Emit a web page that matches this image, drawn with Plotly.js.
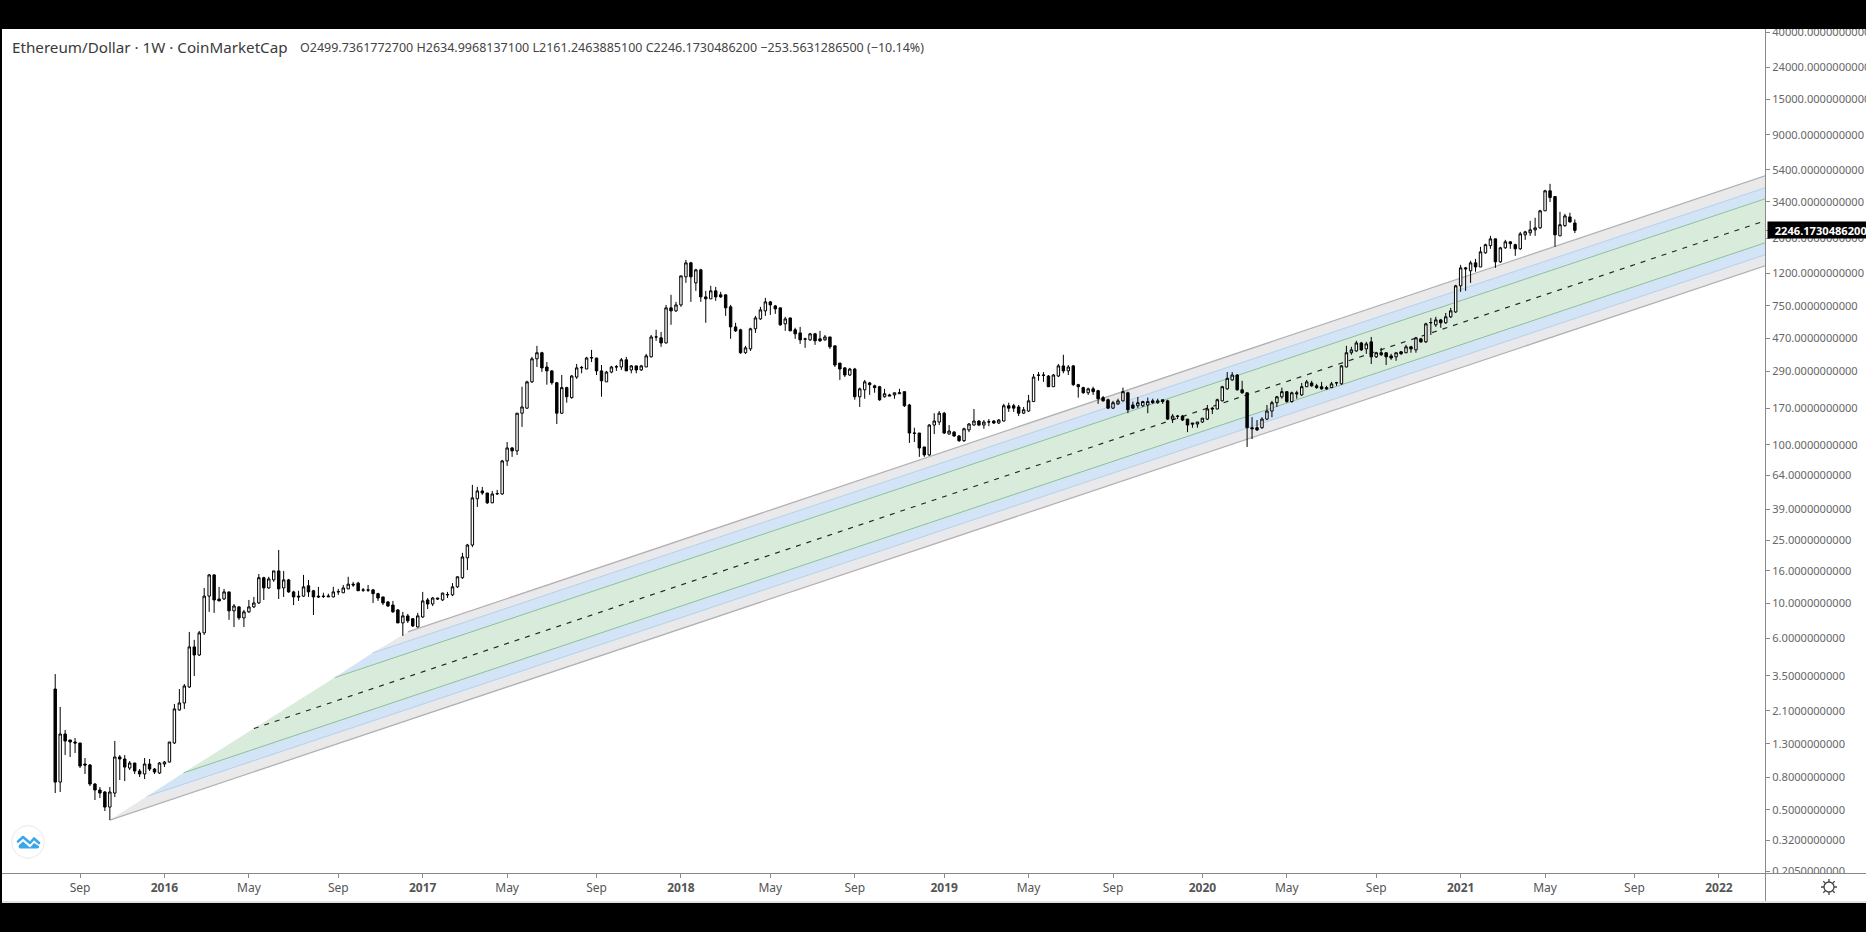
<!DOCTYPE html>
<html><head><meta charset="utf-8">
<script src="https://cdn.plot.ly/plotly-3.0.1.min.js"></script>
<style>
html,body{margin:0;padding:0;background:#000;width:1866px;height:932px;overflow:hidden}
#frame{position:absolute;left:2px;top:29px;width:1864px;height:874px;background:#fff;overflow:hidden}
#chart{position:absolute;left:0;top:0;width:1864px;height:873px}
#corner{position:absolute;left:1764px;top:845px;width:100px;height:26px;background:#fff}
#foot{position:absolute;left:0;top:872px;width:1864px;height:2px;background:#e2e2e2}
#vline{position:absolute;left:1763px;top:844px;width:1px;height:28px;background:#8a8a8a}
#hline{position:absolute;left:1763px;top:844px;width:101px;height:1px;background:#8a8a8a}
#logo{position:absolute;left:9px;top:796px}
#gear{position:absolute;left:1818px;top:849px}
</style></head><body>
<div id="frame">
<div id="chart"></div>
<div id="corner"></div><div id="vline"></div><div id="hline"></div><div id="foot"></div>
<svg id="logo" width="34" height="34" viewBox="0 0 34 34"><circle cx="17" cy="17" r="16.3" fill="#fff" stroke="#e9e9e9"/><path d="M7 16.500l5-4.500 7 6 4-4.500 5 4.500" fill="none" stroke="#3ba6e8" stroke-width="2.600" stroke-linejoin="round" stroke-linecap="round"/><path d="M8 20l4-3.500 7 6 4-4.500 5 3c.6 1.600-.4 2.500-2 2.500H9.500c-1.800 0-2.500-2-1.500-3.500z" fill="#3ba6e8"/></svg>
<svg id="gear" width="18" height="18" viewBox="0 0 18 18"><circle cx="9" cy="9" r="5" fill="none" stroke="#444" stroke-width="1.300"/><path d="M9 1v3M9 14v3M1 9h3M14 9h3M3.300 3.300l2.100 2.100M12.600 12.600l2.100 2.100M3.300 14.700l2.100-2.100M12.600 5.400l2.100-2.100" stroke="#444" stroke-width="1.300"/></svg>
</div>
<script>
const firstBar = '2015-08-03';
const opens = [
2.88,.746,1.50,1.375,1.335,1.316,.97,.956,.725,.665,
.646,.519,.636,1.074,1.043,.915,.984,.876,.839,.97,
.902,.851,.97,.998,1.316,2.126,2.353,2.968,5.31,4.72,
6.51,11.1,15.1,10.65,10.65,11.8,8.96,9.49,8.09,8.83,
9.49,10.05,14.5,12.5,14.05,16.0,12.5,14.05,11.8,11.1,
11.1,12.9,12.0,11.1,11.1,10.97,10.97,11.8,11.65,12.33,
13.2,13.4,12.15,12.15,12.15,11.5,10.97,10.2,9.75,9.08,
7.52,8.33,8.0,7.09,8.2,10.5,9.9,10.8,10.5,11.3,
11.3,12.7,14.5,19.35,23.3,45.6,51.1,49.6,43.0,48.9,
48.9,79.0,95.4,91.4,158,170,249,348,380,309,
292,246,158,229,198,267,305,300,352,352,
292,249,287,309,309,343,296,314,296,309,
358,478,472,438,729,698,761,1144,1401,1048,
1266,855,831,933,881,881,740,553,530,380,
402,538,621,698,795,750,729,578,630,530,
507,465,458,500,465,458,478,420,327,305,
275,300,200.5,222,245,235,232,200.5,206,206,
209.5,216,178,118.5,118.5,96.8,86.2,133,139,158,
116.7,120,113.5,106,124,133,141,133,139,141,
137,141,176,176,173,158,163,187,275,275,
271,232,271,314,292,314,239,229,212.5,225,
219,198,192,170,181,189,212.5,178,176,176,
178,189,184,192,189,145,151.5,151.5,145,137,
135,139,145,170,168,189,225,256,275,222,
212.5,128,128,128,145,163,184,200.5,216,187,
212.5,206,232,245,235,232,229,229,245,242,
309,380,390,438,402,445,358,380,380,363,
358,385,380,414,396,465,445,587,570,612,
587,640,687,1004,1303,1248,1401,1320,1621,1800,
1985,1422,1743,1902,1824,1718,2104,2167,2263,2330,
2983,3988,3670,2074,2403,2730,2499.74];
const highs = [
3.58,2.22,1.59,1.375,1.415,1.316,1.058,.97,.736,.694,
.655,.694,1.355,1.105,1.105,1.013,.984,.902,1.058,1.043,
.915,.998,1.013,1.335,2.32,2.88,3.10,6.60,5.88,6.70,
12.5,15.3,15.3,12.7,12.33,11.8,9.9,9.62,9.08,10.5,
10.97,15.3,14.7,14.7,16.0,21.7,16.0,14.25,12.0,12.0,
15.1,14.05,12.15,12.7,11.65,11.5,12.7,12.33,13.05,14.7,
13.65,13.65,12.5,13.05,12.33,11.65,10.97,10.35,10.35,9.2,
8.83,8.58,8.0,8.70,11.8,10.8,10.97,10.8,11.65,11.8,
13.4,14.7,20.8,23.7,55.8,54.2,54.2,49.6,51.1,51.9,
80.2,104,96.8,158,232,253,358,420,385,332,
296,249,275,232,275,323,314,358,396,352,
318,292,314,318,352,358,318,314,318,374,
492,530,514,761,881,795,1160,1464,1422,1285,
1285,933,1004,989,920,881,761,587,538,420,
546,649,740,843,807,761,729,640,630,546,
553,472,507,507,522,492,478,420,327,309,
305,305,229,256,249,239,235,225,209.5,212.5,
225,216,181,128,118.5,96.8,135,158,163,161,
133,122,115,128,137,168,143,143,145,143,
145,181,184,181,178,173,206,279,287,287,
275,279,323,369,318,318,242,232,229,232,
222,203,195,189,195,229,216,187,200,189,
198,195,195,192,192,156,154,154,145,137,
139,147,178,173,195,235,287,287,279,253,
212.5,149,143,149,178,189,203,229,216,216,
219,245,256,253,242,249,235,249,249,318,
420,414,452,445,445,478,385,408,380,374,
380,390,426,420,478,472,587,630,640,621,
677,729,1018,1361,1320,1443,1485,1768,1850,2074,
1985,1768,1957,1902,1850,2198,2230,2580,2696,3026,
4046,4414,3670,2940,2856,2900,2635.00];
const lows = [
.636,.646,1.105,1.074,1.138,.915,.839,.704,.575,.592,
.49,.43,.60,.769,.757,.889,.839,.803,.78,.876,
.839,.839,.928,.99,1.297,2.10,2.157,2.926,3.48,4.65,
6.32,8.83,8.70,10.35,10.5,7.86,7.09,7.86,7.09,8.70,
9.35,9.9,10.5,12.33,13.65,10.65,10.97,11.65,9.75,10.35,
10.97,10.97,8.44,10.8,10.8,10.97,10.9,11.3,11.6,12.3,
12.7,12.0,11.8,11.8,10.05,10.35,9.75,9.49,8.70,7.52,
6.23,7.52,7.09,7.05,8.09,9.2,9.62,10.5,10.35,10.8,
11.1,12.5,14.25,16.2,22.6,40.5,48.3,42.3,42.8,48.3,
48.3,73.5,83.8,86.2,129.5,168,245,309,287.5,239,
239,135,156,184,195,260,282,300,332,275,
200.5,249,282,292,296,292,282,282,292,309,
355,452,414,435,570,687,740,1048,795,933,
795,587,831,807,843,649,465,514,374,374,
390,507,612,649,658,668,562,522,522,465,
432,408,452,426,445,452,402,309,256,267,
271,192,173,195,206,212.5,189,198,203,195,
209,173,102.6,104,83.8,83.8,85,116.7,133,116.7,
116,112,104,104,120,132,131,126,131,135,
135,140,161,161,151.5,156,161,186,253,249,
232,231,267,282,275,235,198,209.5,206,206,
181,187,168,168,178,188,158,168,170,173,
158,181,181,181,143,137,145,141,120,128,
128,137,143,156,167,188,222,253,219,209.5,
96.8,108.5,122,126,143,149,173,195,184,184,
195,203,231,232,225,222,222,228,235,239,
308,369,385,390,374,323,352,363,318,343,
338,369,378,380,380,438,438,492,553,546,
578,630,677,920,933,1048,1232,1318,1600,1718,
1303,1401,1718,1718,1551,1693,1957,2074,2074,2295,
2980,3390,1768,2070,2368,2510,2161.25];
const closes = [
.746,1.50,1.355,1.335,1.316,.942,.956,.725,.665,.636,
.519,.646,1.074,1.043,.928,.984,.876,.839,.97,.902,
.863,.984,.998,1.335,2.157,2.353,3.01,5.31,4.72,6.51,
11.1,15.1,10.5,10.35,11.8,8.96,9.62,8.09,8.83,9.49,
10.05,14.5,12.5,14.25,16.0,12.33,14.05,11.8,10.97,10.97,
12.7,11.8,10.97,10.97,11.05,11.1,11.8,11.85,12.5,13.2,
13.05,12.0,12.1,12.1,11.5,10.8,10.05,9.62,8.83,7.52,
8.33,7.75,7.2,8.33,10.35,9.9,10.8,10.65,11.6,11.35,
12.7,14.7,19.6,23.3,46.2,51.1,49.6,43.0,48.9,49.2,
79.0,95.4,91.4,158,173,249,348,380,305,292,
246,158,229,200.5,271,305,307,352,354,292,
253,287,309,310,343,292,314,296,314,363,
478,478,438,729,698,761,1160,1401,1144,1266,
855,831,933,855,855,729,553,522,380,408,
538,630,708,795,761,718,570,621,522,500,
458,463,500,452,452,478,414,318,300,275,
300,200.5,225,249,239,229,192,209.5,203,212.5,
212.5,176,118.5,118,95.4,86.2,133,141,158,118.5,
122,113.5,106,126,135,141,133,139,139.5,137,
143,176,170,170,158,166,189,267,274,274,
232,275,314,292,309,239,232,212.5,225,216,
195,189,170,184,189,216,166,170,184,187,
187,184,189,187,145,151.5,151,143,133,135,
139,147,168,168,192,232,262,275,222,212.5,
128,126,124,145,163,184,200.5,216,187,212.5,
209.5,232,249,235,229,225,225,242,246,314,
380,396,438,396,432,358,380,369,358,352,
380,374,414,402,472,445,578,589,612,587,
640,698,1004,1303,1285,1401,1320,1644,1824,1985,
1422,1743,1902,1850,1718,2135,2198,2263,2330,2983,
3988,3617,2104,2438,2770,2540,2246.17];

// channel: where each parallel line starts on the fan edge, and where it ends at the right edge
const channelEnd = '2022-03-09';
const lineNames  = ['bottom','lowerBlue','lowerGreen','middle','upperGreen','upperBlue','top'];
const lineStartDates  = ['2015-10-19','2015-12-10','2016-01-31','2016-05-09','2016-08-31','2016-10-23','2016-12-12'];
const lineStartPrices = [0.43,0.605,0.854,1.623,3.40,4.86,6.60];
const lineEndPrices   = [1342,1574,1874,2580,3550,4165,4958];
const lineColors = ['#b2b2b2','#b4d0ec','#8cc098','#222222','#8cc098','#b4d0ec','#b2b2b2'];
const lineWidths = [1.3,1,1,1.15,1,1,1.3];
const bandColors = ['#e9e9eb','#d2e4f6','#d9ebdb','#d9ebdb','#d2e4f6','#e9e9eb'];

const yTickValues = [40000,24000,15000,9000,5400,3400,2000,1200,750,470,290,170,100,64,39,25,16,10,6,3.5,2.1,1.3,0.8,0.5,0.32,0.205];
const xTickDates = ['2015-09-07','2016-01-04','2016-05-02','2016-09-05','2017-01-02','2017-05-01','2017-09-04','2018-01-01','2018-05-07','2018-09-03','2019-01-07','2019-05-06','2019-09-02','2020-01-06','2020-05-04','2020-09-07','2021-01-04','2021-05-03','2021-09-06','2022-01-03'];
const xTickLabels = ['Sep','<b>2016</b>','May','Sep','<b>2017</b>','May','Sep','<b>2018</b>','May','Sep','<b>2019</b>','May','Sep','<b>2020</b>','May','Sep','<b>2021</b>','May','Sep','<b>2022</b>'];
const headerTitle = 'Ethereum/Dollar · 1W · CoinMarketCap';
const headerValues = 'O2499.7361772700 H2634.9968137100 L2161.2463885100 C2246.1730486200 −253.5631286500 (−10.14%)';
const lastLabel = '2246.1730486200';

const t0 = Date.parse(firstBar + 'T00:00:00Z');
const dates = opens.map((_, i) => new Date(t0 + i * 7 * 864e5).toISOString().slice(0, 10));
const xRange = ['2015-05-20', channelEnd];
const yRange = [-0.7005, 4.621];

const traces = [];
// bands: between consecutive lines, closed along the fan edge
for (let i = 0; i < bandColors.length; i++) {
  traces.push({type:'scatter', mode:'none', fill:'toself', fillcolor:bandColors[i], hoverinfo:'skip', showlegend:false,
    x:[lineStartDates[i], channelEnd, channelEnd, lineStartDates[i+1], lineStartDates[i]],
    y:[lineStartPrices[i], lineEndPrices[i], lineEndPrices[i+1], lineStartPrices[i+1], lineStartPrices[i]]});
}
for (let i = 0; i < lineNames.length; i++) {
  traces.push({type:'scatter', mode:'lines', name:lineNames[i], hoverinfo:'skip', showlegend:false,
    x:[lineStartDates[i], channelEnd], y:[lineStartPrices[i], lineEndPrices[i]],
    line:{color:lineColors[i], width:lineWidths[i], dash:lineNames[i]==='middle'?'5px,6px':'solid'}});
}
traces.push({type:'candlestick', xaxis:'x2', yaxis:'y2', x:dates, open:opens, high:highs, low:lows, close:closes,
  whiskerwidth:0, hoverinfo:'skip', showlegend:false,
  increasing:{line:{color:'#000',width:1}, fillcolor:'#fff'},
  decreasing:{line:{color:'#000',width:1}, fillcolor:'#000'}});

const plotH = 844, plotW = 1763;
const layout = {
  width:1864, height:873, margin:{l:0,r:101,t:0,b:29,pad:0},
  paper_bgcolor:'#fff', plot_bgcolor:'#fff', showlegend:false, hovermode:false,
  xaxis:{type:'date', range:xRange, fixedrange:true, showgrid:false, zeroline:false, showline:true, linecolor:'#8a8a8a', linewidth:1,
    tickmode:'array', tickvals:xTickDates, ticktext:xTickLabels, ticks:'outside', ticklen:4, tickcolor:'#8a8a8a',
    tickfont:{family:'Noto Sans, sans-serif', size:12, color:'#555'}, rangeslider:{visible:false}},
  yaxis:{type:'log', side:'right', range:yRange, fixedrange:true, showgrid:false, zeroline:false, showline:true, linecolor:'#8a8a8a', linewidth:1,
    tickmode:'array', tickvals:yTickValues.concat([2246.17]), ticklabeloverflow:'allow',
    ticktext:yTickValues.map(v => v.toFixed(10)).concat(['']), ticks:'outside', ticklen:4, tickcolor:'#8a8a8a',
    tickfont:{family:'Noto Sans, sans-serif', size:11.1, color:'#666'}},
  xaxis2:{type:'date', range:xRange, overlaying:'x', visible:false, fixedrange:true, rangeslider:{visible:false}},
  yaxis2:{type:'log', range:yRange, overlaying:'y', side:'right', visible:false, fixedrange:true},
  annotations:[
    {xref:'paper',yref:'paper',x:8/plotW,y:(plotH-18)/plotH,xanchor:'left',yanchor:'middle',showarrow:false,text:headerTitle,
      font:{family:'Noto Sans, sans-serif',size:15.2,color:'#3a3a3a'}},
    {xref:'paper',yref:'paper',x:296/plotW,y:(plotH-18)/plotH,xanchor:'left',yanchor:'middle',showarrow:false,text:headerValues,
      font:{family:'Noto Sans, sans-serif',size:12.5,color:'#444'}},
    {xref:'paper',yref:'y',x:1+2/plotW,y:Math.log10(2246.17),xanchor:'left',yanchor:'middle',showarrow:false,
      text:'<b>&nbsp;&nbsp;'+lastLabel+'</b>', align:'left', width:104, height:14,
      bgcolor:'#000',borderpad:1,font:{family:'Noto Sans, sans-serif',size:11.1,color:'#fff'}}
  ]
};
Plotly.newPlot('chart', traces, layout, {displayModeBar:false, staticPlot:true});
</script>
</body></html>
